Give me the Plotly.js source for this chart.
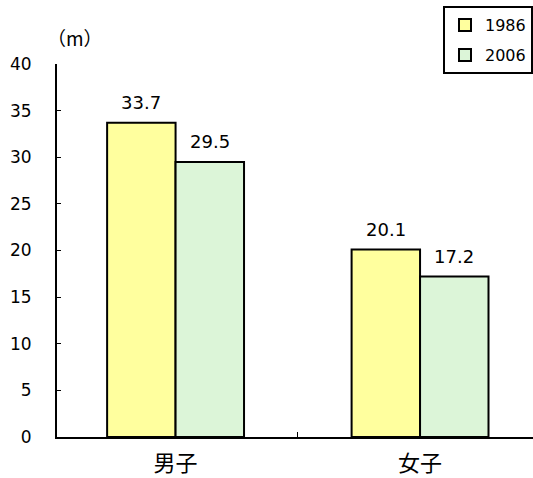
<!DOCTYPE html>
<html>
<head>
<meta charset="utf-8">
<script src="https://cdn.plot.ly/plotly-3.0.1.min.js"></script>
<style>html,body{margin:0;padding:0;background:#fff;}#chart{width:533px;height:478px;}</style>
</head>
<body>
<div id="chart"></div>
<script>
// 遠投距離の平均（男子・女子、1986年と2006年）
const categories = ['男子', '女子'];
const years = ['1986', '2006'];
const values1986 = [33.7, 20.1];
const values2006 = [29.5, 17.2];
const yTicks = [0, 5, 10, 15, 20, 25, 30, 35, 40];

const colors = ['#ffff9e', '#dcf5d8'];
const series = [values1986, values2006];
const bargap = 0.44;
const barWidth = (1 - bargap) / series.length;

const numFont = 'DejaVu Sans, Verdana, sans-serif';

const traces = series.map((vals, j) => ({
  type: 'bar',
  name: years[j],
  x: categories,
  y: vals,
  marker: { color: colors[j], line: { color: '#000', width: 2 } },
  legendgroup: years[j],
  hoverinfo: 'skip'
}));

// value labels above each bar
const annotations = [];
series.forEach((vals, j) => {
  vals.forEach((v, i) => {
    annotations.push({
      x: i + (j - (series.length - 1) / 2) * barWidth,
      y: v,
      xref: 'x', yref: 'y',
      text: v.toFixed(1),
      showarrow: false,
      yanchor: 'bottom',
      yshift: 8,
      font: { family: numFont, size: 18, color: '#000' }
    });
  });
});
annotations.push({
  xref: 'paper', yref: 'paper', x: -0.025, y: 1.03,
  xanchor: 'left', yanchor: 'bottom',
  text: '（m）', showarrow: false,
  font: { family: 'Noto Sans CJK JP, sans-serif', size: 19, color: '#000' }
});

const layout = {
  width: 533, height: 478,
  margin: { l: 57, r: 0, t: 64, b: 41, autoexpand: false },
  paper_bgcolor: '#fff', plot_bgcolor: '#fff',
  barmode: 'group', bargap: bargap, bargroupgap: 0,
  showlegend: true,
  legend: {
    x: 1.0, y: 1.155, xanchor: 'right', yanchor: 'top',
    bordercolor: '#000', borderwidth: 2, bgcolor: '#fff',
    font: { family: numFont, size: 16, color: '#000' },
    tracegroupgap: 6, itemwidth: 30
  },
  xaxis: {
    type: 'category', range: [-0.485, 1.462],
    showline: true, linecolor: '#000', linewidth: 2,
    ticks: 'inside', tickson: 'boundaries', ticklen: 5, tickcolor: '#000', tickwidth: 1,
    showgrid: false, zeroline: false, ticklabelstandoff: 6,
    tickfont: { family: 'Noto Sans CJK JP, sans-serif', size: 22, color: '#000' }
  },
  yaxis: {
    range: [0, 40], tickvals: yTicks, ticktext: yTicks.map(String),
    showline: true, linecolor: '#000', linewidth: 2,
    ticks: 'inside', ticklen: 4, tickcolor: '#000', tickwidth: 1,
    showgrid: false, zeroline: false, ticklabelstandoff: 20,
    tickfont: { family: numFont, size: 17, color: '#000' }
  },
  annotations: annotations
};

Plotly.newPlot('chart', traces, layout, { displayModeBar: false, staticPlot: true });
</script>
</body>
</html>
